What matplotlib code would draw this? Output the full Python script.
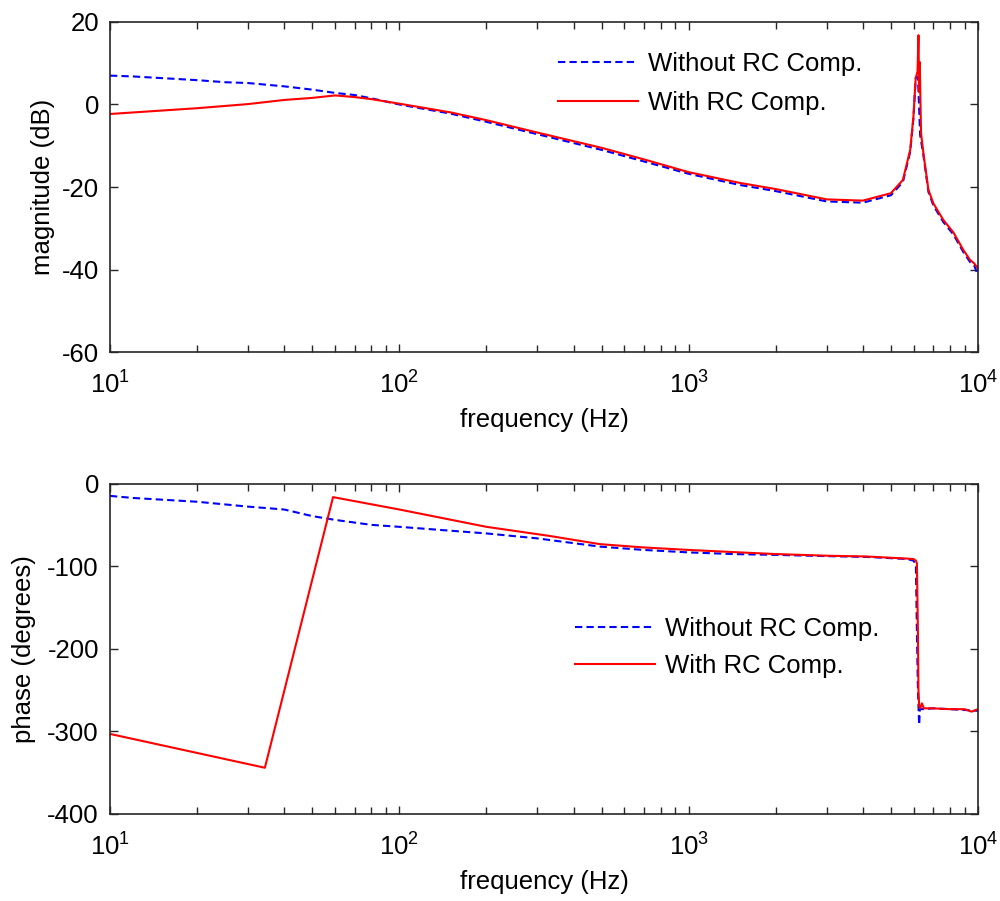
import matplotlib
matplotlib.use("Agg")
import matplotlib.pyplot as plt
from matplotlib.ticker import LogLocator, NullFormatter

plt.rcParams['font.family'] = ['Liberation Sans', 'DejaVu Sans']
plt.rcParams['mathtext.fontset'] = 'custom'
plt.rcParams['mathtext.rm'] = 'Liberation Sans'
plt.rcParams['mathtext.it'] = 'Liberation Sans:italic'
plt.rcParams['mathtext.bf'] = 'Liberation Sans:bold'
plt.rcParams['axes.unicode_minus'] = False

# ---------------- data ----------------
labels = ["Without RC Comp.", "With RC Comp."]

f_mag_blue = [10, 12, 20, 25, 30, 40, 50, 60, 70, 80, 100, 150, 200, 300, 500, 700,
              1000, 1500, 2000, 3000, 4000, 5000, 5500, 5830, 5980, 6093, 6200, 6310,
              6476, 6741, 7015, 7590, 8220, 8906, 9393, 9700, 10000]
mag_blue = [7.0, 6.8, 5.9, 5.4, 5.2, 4.4, 3.6, 2.8, 2.3, 1.5, 0.0, -2.2, -4.2, -7.2,
            -11.0, -13.8, -16.8, -19.5, -21.0, -23.5, -23.8, -22.0, -18.8, -11.5, -3.5,
            6.4, 6.7, -7.4, -12.3, -21.2, -24.5, -28.5, -31.5, -35.8, -38.2, -39.0, -41.5]

f_mag_red = [10, 20, 30, 40, 50, 60, 70, 80, 100, 150, 200, 300, 500, 700, 1000, 1500,
             2000, 3000, 4000, 5000, 5500, 5830, 5980, 6090, 6180, 6226, 6260, 6290,
             6357, 6476, 6741, 7015, 7590, 8220, 8906, 9393, 9700, 9908, 10000]
mag_red = [-2.3, -0.9, 0.1, 1.1, 1.6, 2.2, 1.8, 1.3, 0.2, -1.9, -3.8, -6.8, -10.5,
           -13.3, -16.4, -19.0, -20.5, -23.0, -23.3, -21.5, -18.3, -11.0, -3.0, 6.4,
           8.0, 16.8, 3.0, 10.3, -7.0, -11.8, -20.7, -24.0, -28.0, -31.0, -35.3, -37.7,
           -38.5, -39.4, -40.0]

f_ph_blue = [10, 12, 20, 30, 40, 50, 60, 80, 100, 200, 300, 494, 700, 1000, 1425, 2000,
             3000, 4140, 5000, 5700, 5980, 6100, 6150, 6200, 6260, 6300, 6400, 7000,
             8000, 9000, 10000]
ph_blue = [-14.5, -17, -21.6, -27.5, -31, -39, -43.6, -49.6, -52, -60, -66, -76, -80,
           -83, -85, -86, -87.5, -88.5, -90, -91, -93, -97, -180, -250, -292, -272,
           -273, -272, -273, -274, -275]

f_ph_red = [10, 34.3, 59, 100, 200, 330, 494, 700, 1000, 1425, 2000, 3000, 4140, 5000,
            5700, 5980, 6100, 6150, 6200, 6226, 6260, 6310, 6400, 6500, 7000, 8000,
            9000, 9500, 10000]
ph_red = [-303, -344, -16, -31, -52, -63, -73, -77, -80, -82.6, -85, -87, -88, -89.5,
          -90.5, -91, -93, -96, -180, -250, -268, -272, -266, -272, -272, -273, -273,
          -276, -273]

xlim = (10, 10000)
mag_ylim = (-60, 20)
ph_ylim = (-400, 0)
mag_yticks = [-60, -40, -20, 0, 20]
ph_yticks = [-400, -300, -200, -100, 0]
xticks = [10, 100, 1000, 10000]
xticklabels = [r"$\mathregular{10^{1}}$", r"$\mathregular{10^{2}}$",
               r"$\mathregular{10^{3}}$", r"$\mathregular{10^{4}}$"]

# ---------------- figure ----------------
fig = plt.figure(figsize=(10.0, 9.01), dpi=100)
ax1 = fig.add_axes([0.110, 0.6093, 0.868, 0.3663])
ax2 = fig.add_axes([0.110, 0.0966, 0.868, 0.3663])

FS = 18.5
BLUE = "#0000ff"
RED = "#ff0000"


def style(ax, ylim, yticks, ylabel, ylabelpad):
    ax.set_xscale('log')
    ax.set_xlim(*xlim)
    ax.set_ylim(*ylim)
    ax.set_yticks(yticks)
    ax.set_xticks(xticks)
    ax.set_xticklabels(xticklabels)
    ax.xaxis.set_minor_locator(LogLocator(base=10, subs=range(2, 10), numticks=20))
    ax.xaxis.set_minor_formatter(NullFormatter())
    ax.tick_params(which='both', direction='in', top=True, right=True,
                   labelsize=FS, width=1.0, color='#262626')
    ax.tick_params(axis='y', which='major', length=6, pad=8)
    ax.tick_params(axis='x', which='major', length=6, pad=14)
    ax.tick_params(which='minor', length=5)
    for s in ax.spines.values():
        s.set_linewidth(1.2)
        s.set_color('#262626')
    ax.set_xlabel("frequency (Hz)", fontsize=FS, labelpad=7)
    ax.set_ylabel(ylabel, fontsize=FS, labelpad=ylabelpad)


ax1.plot(f_mag_blue, mag_blue, color=BLUE, lw=1.5, dashes=(3.5, 2.0), label=labels[0])
ax1.plot(f_mag_red, mag_red, color=RED, lw=1.5, label=labels[1])
style(ax1, mag_ylim, mag_yticks, "magnitude (dB)", 5)
ax1.legend(loc='center left', bbox_to_anchor=(0.516, 0.813), frameon=False,
           fontsize=FS, handlelength=3.1, handletextpad=0.4, borderpad=0,
           borderaxespad=0, labelspacing=0.58)

ax2.plot(f_ph_blue, ph_blue, color=BLUE, lw=1.5, dashes=(3.5, 2.0), label=labels[0])
ax2.plot(f_ph_red, ph_red, color=RED, lw=1.5, label=labels[1])
style(ax2, ph_ylim, ph_yticks, "phase (degrees)", 8)
ax2.legend(loc='center left', bbox_to_anchor=(0.5357, 0.505), frameon=False,
           fontsize=FS, handlelength=3.1, handletextpad=0.4, borderpad=0,
           borderaxespad=0, labelspacing=0.5)

fig.savefig("out.png", dpi=100)
